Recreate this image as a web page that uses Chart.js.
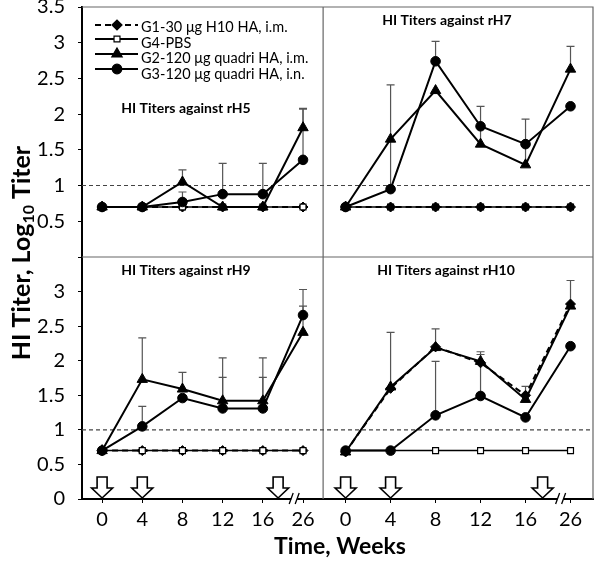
<!DOCTYPE html>
<html>
<head>
<meta charset="utf-8">
<script src="https://cdn.jsdelivr.net/npm/chart.js@4"></script>
<style>
  body { margin: 0; background: #fff; }
  #wrap { position: relative; width: 600px; height: 574px; }
</style>
</head>
<body>
<div id="wrap"><canvas id="chart" width="600" height="574"></canvas></div>
<script>
// x categories (weeks)
const weeks = ['0', '4', '8', '12', '16', '26'];

// rH5 (top left)
const h5G1 = [0.7, 0.7, 0.7, 0.7, 0.7, 0.7];
const h5G4 = [0.7, 0.7, 0.7, 0.7, 0.7, 0.7];
const h5G2 = [0.7, 0.7, 1.05, 0.7, 0.7, 1.81];
const h5G3 = [0.7, 0.7, 0.77, 0.88, 0.88, 1.36];
const h5G2Err = [null, null, 1.22, null, null, 2.08];
const h5G3Err = [null, null, 0.91, 1.31, 1.31, 2.07];

// rH7 (top right)
const h7G1 = [0.7, 0.7, 0.7, 0.7, 0.7, 0.7];
const h7G4 = [0.7, 0.7, 0.7, 0.7, 0.7, 0.7];
const h7G2 = [0.7, 1.65, 2.33, 1.58, 1.29, 2.63];
const h7G3 = [0.7, 0.95, 2.74, 1.83, 1.58, 2.11];
const h7G2Err = [null, null, null, 2.11, 1.93, 2.95];
const h7G3Err = [null, 2.41, 3.02, null, null, null];

// rH9 (bottom left)
const h9G1 = [0.7, 0.7, 0.7, 0.7, 0.7, 0.7];
const h9G4 = [0.7, 0.7, 0.7, 0.7, 0.7, 0.7];
const h9G2 = [0.7, 1.73, 1.59, 1.42, 1.42, 2.41];
const h9G3 = [0.7, 1.05, 1.46, 1.31, 1.31, 2.66];
const h9G2Err = [null, 2.33, 1.83, 2.04, 2.04, 2.79];
const h9G3Err = [null, 1.34, null, 1.76, 1.76, 3.03];

// rH10 (bottom right)
const h10G1 = [0.68, 1.60, 2.20, 1.97, 1.50, 2.82];
const h10G4 = [0.7, 0.7, 0.7, 0.7, 0.7, 0.7];
const h10G2 = [0.68, 1.62, 2.19, 1.99, 1.44, 2.79];
const h10G3 = [0.7, 0.7, 1.21, 1.49, 1.18, 2.21];
const h10G2Err = [null, 2.41, 2.46, 2.13, 1.63, 3.16];
const h10G3Err = [null, null, 1.99, 2.09, null, null];

// immunisation arrows and axis break (category index)
const arrowIdx = [0, 1, 4.38];
const breakIdx = 4.78;
const refLine = 1;

const legendLabels = ['G1-30 \u03bcg H10 HA, i.m.', 'G4-PBS', 'G2-120 \u03bcg quadri HA, i.m.', 'G3-120 \u03bcg quadri HA, i.n.'];
const panelTitles = ['HI Titers against rH5', 'HI Titers against rH7', 'HI Titers against rH9', 'HI Titers against rH10'];

const FONT = 'Lato';
Chart.defaults.font.family = FONT;
Chart.defaults.color = '#000';

const groupStyle = {
    g1: { pointStyle: 'rectRot', radius: 5, bg: '#000', dash: [6, 4], order: 3 },
    g4: { pointStyle: 'rect', radius: 4.2, bg: '#fff', dash: [], order: 2 },
    g2: { pointStyle: 'triangle', radius: 6, bg: '#000', dash: [], order: 1 },
    g3: { pointStyle: 'circle', radius: 4.8, bg: '#000', dash: [], order: 0 }
};

const panels = [
    { x: 'xL', y: 'yT', g1: h5G1, g4: h5G4, g2: h5G2, g3: h5G3, g2Err: h5G2Err, g3Err: h5G3Err },
    { x: 'xR', y: 'yT', g1: h7G1, g4: h7G4, g2: h7G2, g3: h7G3, g2Err: h7G2Err, g3Err: h7G3Err, g1Top: true },
    { x: 'xL', y: 'yB', g1: h9G1, g4: h9G4, g2: h9G2, g3: h9G3, g2Err: h9G2Err, g3Err: h9G3Err },
    { x: 'xR', y: 'yB', g1: h10G1, g4: h10G4, g2: h10G2, g3: h10G3, g2Err: h10G2Err, g3Err: h10G3Err }
];

const datasets = [];
panels.forEach(p => {
    ['g1', 'g4', 'g2', 'g3'].forEach(g => {
        const s = groupStyle[g];
        let order = s.order;
        // in the rH7 panel the H10 group sits above PBS
        if (p.g1Top && g === 'g1') order = 2;
        if (p.g1Top && g === 'g4') order = 3;
        datasets.push({
            label: g,
            data: p[g],
            errTop: p[g + 'Err'] || null,
            xAxisID: p.x,
            yAxisID: p.y,
            borderColor: '#000',
            borderWidth: g === 'g4' ? 1.5 : 2,
            borderDash: s.dash,
            pointStyle: s.pointStyle,
            pointRadius: s.radius,
            pointBackgroundColor: s.bg,
            pointBorderColor: '#000',
            pointBorderWidth: s.bg === '#fff' ? 1.2 : 1,
            tension: 0,
            fill: false,
            order: order
        });
    });
});

function xScale(opts) {
    return Object.assign({
        type: 'category',
        labels: weeks,
        position: 'bottom',
        stack: 'x',
        offset: true,
        border: { color: '#000', width: 2 },
        grid: { drawOnChartArea: false, color: '#000', tickLength: 4 },
        ticks: { font: { size: 20 }, padding: 5, autoSkip: false, maxRotation: 0 },
        afterFit(scale) {
            scale.height = 75;
            scale.paddingLeft = 0;
            scale.paddingRight = 0;
        }
    }, opts);
}

function yScale(opts, hide) {
    return Object.assign({
        type: 'linear',
        position: 'left',
        stack: 'y',
        min: 0,
        max: 3.5,
        border: { color: '#000', width: 2 },
        grid: { drawOnChartArea: false, color: '#000', tickLength: 4 },
        ticks: {
            stepSize: 0.5,
            autoSkip: false,
            font: { size: 20 },
            padding: 13,
            callback: v => (v === hide ? '' : v)
        },
        afterFit(scale) {
            scale.width = 82;
            scale.paddingTop = 0;
            scale.paddingBottom = 0;
        }
    }, opts);
}

function drawArrow(ctx, x, yTip) {
    ctx.save();
    ctx.beginPath();
    ctx.moveTo(x - 5, yTip - 21);
    ctx.lineTo(x + 5, yTip - 21);
    ctx.lineTo(x + 5, yTip - 10);
    ctx.lineTo(x + 10.5, yTip - 10);
    ctx.lineTo(x, yTip);
    ctx.lineTo(x - 10.5, yTip - 10);
    ctx.lineTo(x - 5, yTip - 10);
    ctx.closePath();
    ctx.fillStyle = '#fff';
    ctx.fill();
    ctx.strokeStyle = '#000';
    ctx.lineWidth = 1.6;
    ctx.stroke();
    ctx.restore();
}

const decor = {
    id: 'decor',
    beforeDatasetsDraw(chart) {
        const ctx = chart.ctx;
        const { xL, xR, yT, yB } = chart.scales;
        const area = chart.chartArea;
        ctx.save();
        // panel frame and dividers
        ctx.strokeStyle = '#666';
        ctx.lineWidth = 1.2;
        ctx.beginPath();
        ctx.moveTo(area.left, area.top);
        ctx.lineTo(area.right, area.top);
        ctx.lineTo(area.right, area.bottom);
        ctx.moveTo(area.left, yB.top);
        ctx.lineTo(area.right, yB.top);
        ctx.moveTo(xR.left, area.top);
        ctx.lineTo(xR.left, area.bottom);
        ctx.stroke();

        // dashed reference lines at 1
        ctx.setLineDash([4, 3]);
        ctx.strokeStyle = '#444';
        ctx.lineWidth = 1.1;
        [yT, yB].forEach(ys => {
            const y = ys.getPixelForValue(refLine);
            ctx.beginPath();
            ctx.moveTo(xL.left, y);
            ctx.lineTo(xR.right, y);
            ctx.stroke();
        });
        ctx.setLineDash([]);

        // error bars (upper only)
        ctx.strokeStyle = '#555';
        ctx.lineWidth = 1.2;
        chart.data.datasets.forEach((ds, di) => {
            if (!ds.errTop) return;
            const meta = chart.getDatasetMeta(di);
            const ys = chart.scales[ds.yAxisID];
            ds.errTop.forEach((top, i) => {
                if (top === null) return;
                const x = meta.data[i].x;
                const y0 = ys.getPixelForValue(ds.data[i]);
                const y1 = ys.getPixelForValue(top);
                ctx.beginPath();
                ctx.moveTo(x, y0);
                ctx.lineTo(x, y1);
                ctx.moveTo(x - 4, y1);
                ctx.lineTo(x + 4, y1);
                ctx.stroke();
            });
        });
        ctx.restore();
    },
    afterDatasetsDraw(chart) {
        const ctx = chart.ctx;
        const { xL, xR, yB } = chart.scales;
        const yTip = yB.getPixelForValue(0);

        // vaccination arrows
        [xL, xR].forEach(xs => {
            arrowIdx.forEach(v => drawArrow(ctx, xs.getPixelForValue(v), yTip - 1));
        });

        // axis break marks
        ctx.save();
        ctx.strokeStyle = '#000';
        ctx.lineWidth = 1.3;
        [xL, xR].forEach(xs => {
            const x = xs.getPixelForValue(breakIdx);
            ctx.fillStyle = '#fff';
            ctx.fillRect(x - 3, yTip - 2, 6, 4);
            ctx.beginPath();
            ctx.moveTo(x - 5, yTip + 5);
            ctx.lineTo(x - 1, yTip - 6);
            ctx.moveTo(x + 1, yTip + 5);
            ctx.lineTo(x + 5, yTip - 6);
            ctx.stroke();
        });
        ctx.restore();

        // legend
        ctx.save();
        const rows = [25, 39, 54, 69];
        const textY = [27, 43, 58.5, 74];
        ['g1', 'g4', 'g2', 'g3'].forEach((g, i) => {
            const s = groupStyle[g];
            ctx.strokeStyle = '#000';
            ctx.lineWidth = 2;
            ctx.setLineDash(s.dash);
            ctx.beginPath();
            ctx.moveTo(95, rows[i]);
            ctx.lineTo(138, rows[i]);
            ctx.stroke();
            ctx.setLineDash([]);
            ctx.fillStyle = s.bg;
            ctx.lineWidth = 1.2;
            Chart.helpers.drawPoint(ctx, { pointStyle: s.pointStyle, radius: s.radius, borderWidth: 1.2, rotation: 0 }, 117, rows[i]);
            ctx.fillStyle = '#000';
            ctx.font = '14.5px ' + FONT;
            ctx.textAlign = 'left';
            ctx.textBaseline = 'middle';
            ctx.fillText(legendLabels[i], 141, textY[i]);
        });

        // panel titles
        ctx.font = 'bold 14px ' + FONT;
        ctx.textAlign = 'center';
        const titlePos = [[186, 108], [447, 20], [186, 270], [446, 270]];
        panelTitles.forEach((t, i) => ctx.fillText(t, titlePos[i][0], titlePos[i][1]));

        // axis titles
        ctx.font = 'bold 23px ' + FONT;
        ctx.fillText('Time, Weeks', 340, 547);

        ctx.translate(22, 253);
        ctx.rotate(-Math.PI / 2);
        const p1 = 'HI Titer, Log', p2 = '10', p3 = ' Titer';
        ctx.font = 'bold 25px ' + FONT;
        const w1 = ctx.measureText(p1).width, w3 = ctx.measureText(p3).width;
        ctx.font = 'bold 16px ' + FONT;
        const w2 = ctx.measureText(p2).width;
        let x0 = -(w1 + w2 + w3) / 2;
        ctx.textAlign = 'left';
        ctx.font = 'bold 25px ' + FONT;
        ctx.fillText(p1, x0, 0);
        ctx.font = 'bold 16px ' + FONT;
        ctx.fillText(p2, x0 + w1, 7);
        ctx.font = 'bold 25px ' + FONT;
        ctx.fillText(p3, x0 + w1 + w2, 0);
        ctx.restore();
    }
};

const chart = new Chart(document.getElementById('chart'), {
    type: 'line',
    data: { datasets },
    options: {
        responsive: false,
        animation: false,
        devicePixelRatio: 1,
        layout: { padding: { left: 0, right: 3, top: 7, bottom: 0 } },
        plugins: { legend: { display: false }, tooltip: { enabled: false } },
        scales: {
            xL: xScale({ stackWeight: 243 }),
            xR: xScale({ stackWeight: 272 }),
            yB: yScale({ stackWeight: 242, weight: 0 }, 3.5),
            yT: yScale({ stackWeight: 250, weight: 1 }, 0)
        }
    },
    plugins: [decor]
});
</script>
</body>
</html>
